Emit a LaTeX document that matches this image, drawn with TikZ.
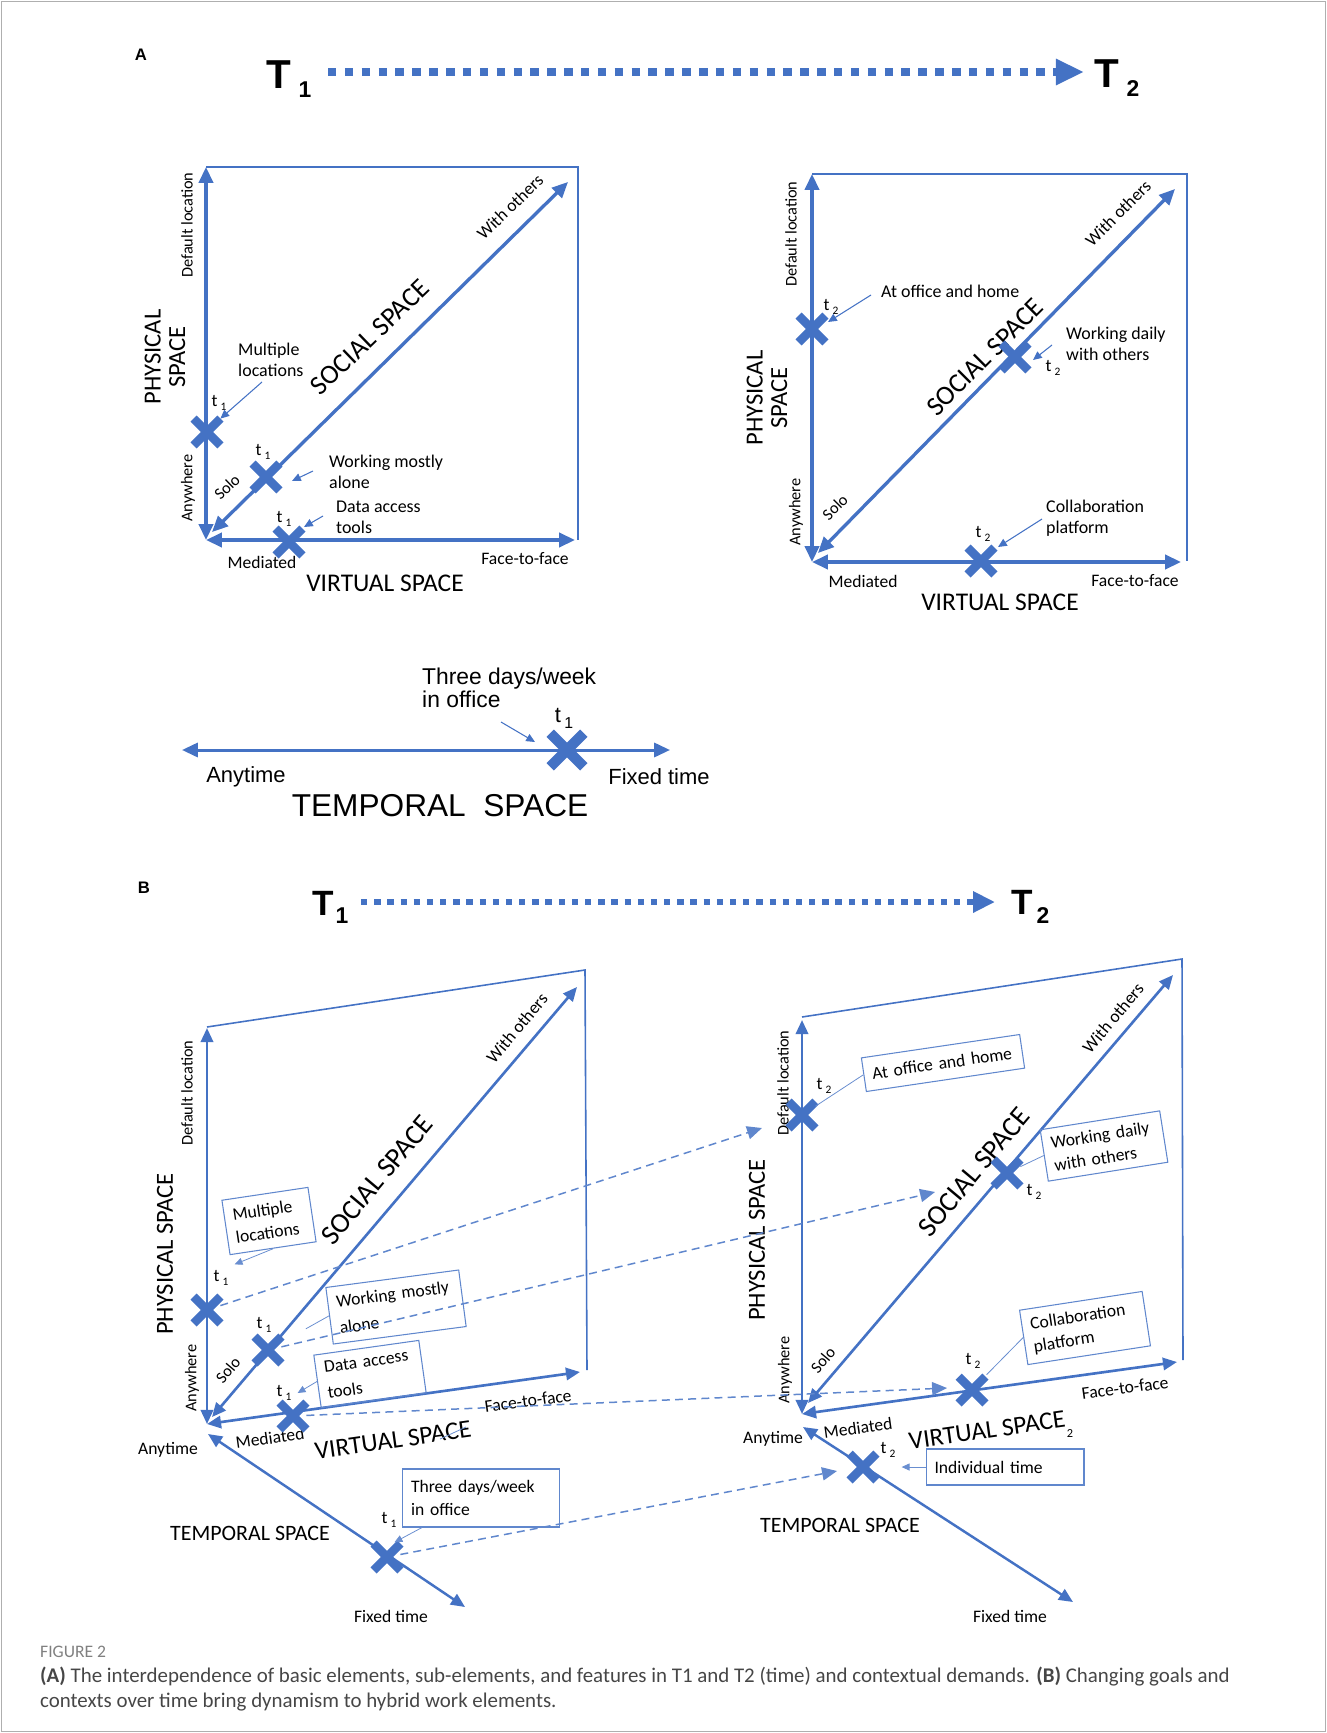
\documentclass[tikz,border=0pt]{standalone}
\usepackage{fontspec}
\setmainfont{Carlito}
\newfontfamily\arialfont{Liberation Sans}
\usetikzlibrary{arrows.meta,calc,shapes.misc}
\hyphenpenalty=10000
\exhyphenpenalty=10000

\definecolor{officeblue}{RGB}{68,114,196}
\definecolor{framegray}{RGB}{175,175,175}
\definecolor{captiongray}{RGB}{70,70,70}

\newcommand{\fsize}[1]{\fontsize{#1}{#1}\selectfont}
\newcommand{\tlab}[1]{t\kern1.8pt\raisebox{-0.45ex}{\fsize{6.5}#1}}

\tikzset{
  axisA/.style={officeblue,line width=1.9pt,
    {Triangle[length=9pt,width=8pt]}-{Triangle[length=9pt,width=8pt]}},
  axisB/.style={officeblue,line width=1.5pt,
    {Triangle[length=8pt,width=7pt]}-{Triangle[length=8pt,width=7pt]}},
  boxline/.style={draw=officeblue,line width=1pt},
  xmark/.style={cross out,draw=officeblue,line width=5pt,minimum size=0.36cm,inner sep=0pt},
  pointer/.style={officeblue,line width=0.6pt,-{Triangle[length=5pt,width=4.5pt]}},
  leader/.style={officeblue!80,line width=0.45pt},
  leadarrow/.style={leader,-{Triangle[length=4.5pt,width=4pt]}},
  movearrow/.style={officeblue!85,line width=0.85pt,dash pattern=on 4.5pt off 3pt,
    -{Triangle[length=8.5pt,width=7.5pt]}},
  timearrow/.style={officeblue,line width=4pt,dash pattern=on 4.8pt off 4.8pt,
    -{Triangle[length=16pt,width=14pt]}},
  tagbox/.style={draw=officeblue!85,line width=0.6pt,align=left,inner ysep=0pt,
    inner xsep=0.17cm,font=\fontsize{10}{13}\selectfont},
  lbl/.style={font=\fsize{10}},
  sml/.style={font=\fsize{9.3}},
  note/.style={font=\fontsize{10.2}{12}\selectfont,align=left,anchor=west},
  hdrT/.style={font=\arialfont\bfseries\fsize{23}},
  hdrsub/.style={font=\arialfont\bfseries\fsize{13}},
}

\begin{document}
\begin{tikzpicture}[x=0.02cm,y=-0.02cm]
\useasboundingbox (0,0) rectangle (1327,1733);
\draw[framegray,line width=0.7pt] (1.5,1.5) rectangle (1325.5,1731.5);

% ---------------- (A) ----------------
\node[font=\arialfont\bfseries\fsize{9.5}] at (141,55) (labA) {A};
\node[hdrT] at (279,75) (aT1) {T};
\node[hdrsub] at (305,90) (aT1s) {1};
\node[hdrT] at (1107,74) (aT2) {T};
\node[hdrsub] at (1133,89) (aT2s) {2};
\coordinate (aS) at (328,72);
\coordinate (aE) at (1084,72);
\path[timearrow] (aS) edge (aE);

% left chart
\coordinate (lO) at (206,540);
\coordinate (lUp) at (206,167);
\coordinate (lRt) at (575,540);
\coordinate (lDl) at (212,532);
\coordinate (lDh) at (568,182);
\coordinate (lC1) at (578,167);
\coordinate (lC2) at (578,540);
\draw[boxline] (lUp) -- (lC1) -- (lC2);
\path[axisA] (lO) edge (lUp);
\path[axisA] (lO) edge (lRt);
\path[axisA] (lDl) edge (lDh);

\node[sml,rotate=90] at (187,225) (dlL) {Default location};
\node[sml,rotate=90] at (188,488) (awL) {Anywhere};
\node[font=\fsize{14},rotate=90,align=center] at (165,357) (psL) {PHYSICAL\\SPACE};
\node[sml,rotate=44] at (227,487) (soL) {Solo};
\node[lbl,rotate=44] at (510,207) (woL) {With others};
\node[font=\fsize{15.5},rotate=44] at (370,337) (ssL) {SOCIAL SPACE};
\node[lbl] at (262,562) (meL) {Mediated};
\node[lbl] at (525,559) (ffL) {Face-to-face};
\node[font=\fsize{14.5}] at (385,583) (vsL) {VIRTUAL SPACE};

\node[xmark] at (207,432) (xL1) {};
\node[xmark] at (266,477) (xL2) {};
\node[xmark] at (289,542) (xL3) {};
\node[lbl] at (219,403) (tL1) {\tlab{1}};
\node[lbl] at (263,452) (tL2) {\tlab{1}};
\node[lbl] at (284,519) (tL3) {\tlab{1}};

\node[note] at (232,360) (mlL) {Multiple\\locations};
\node[note] at (323,472) (wmL) {Working mostly\\alone};
\node[note] at (330,517) (daL) {Data access\\tools};
\coordinate (mlL-a) at (262,382);
\coordinate (wmL-a) at (313,471);
\coordinate (wmL-b) at (292,481);
\coordinate (daL-a) at (323,516);
\coordinate (daL-b) at (304,527);
\path[pointer] (mlL-a) edge (xL1.north east);
\path[pointer] (wmL-a) edge (wmL-b);
\path[pointer] (daL-a) edge (daL-b);

% right chart
\coordinate (rO) at (812,562);
\coordinate (rUp) at (812,174);
\coordinate (rRt) at (1181,562);
\coordinate (rDl) at (818,553);
\coordinate (rDh) at (1175,189);
\coordinate (rC1) at (1187,174);
\coordinate (rC2) at (1187,561);
\draw[boxline] (rUp) -- (rC1) -- (rC2);
\path[axisA] (rO) edge (rUp);
\path[axisA] (rO) edge (rRt);
\path[axisA] (rDl) edge (rDh);

\node[sml,rotate=90] at (791,234) (dlR) {Default location};
\node[sml,rotate=90] at (796,512) (awR) {Anywhere};
\node[font=\fsize{14},rotate=90,align=center] at (767,398) (psR) {PHYSICAL\\SPACE};
\node[sml,rotate=45] at (835,507) (soR) {Solo};
\node[lbl,rotate=45] at (1118,213) (woR) {With others};
\node[font=\fsize{15.5},rotate=45] at (985,357) (ssR) {SOCIAL SPACE};
\node[lbl] at (863,581) (meR) {Mediated};
\node[lbl] at (1135,581) (ffR) {Face-to-face};
\node[font=\fsize{14.5}] at (1000,602) (vsR) {VIRTUAL SPACE};

\node[xmark] at (812,329) (xR1) {};
\node[xmark] at (1015,357) (xR2) {};
\node[xmark] at (981,561) (xR3) {};
\node[lbl] at (831,307) (tR1) {\tlab{2}};
\node[lbl] at (1053,368) (tR2) {\tlab{2}};
\node[lbl] at (983,534) (tR3) {\tlab{2}};

\node[note] at (875,291) (aoR) {At office and home};
\node[note] at (1060,344) (wdR) {Working daily\\with others};
\node[note] at (1040,518) (cpR) {Collaboration\\platform};
\coordinate (aoR-a) at (871,295);
\coordinate (aoR-b) at (828,322);
\coordinate (wdR-a) at (1052,345);
\coordinate (wdR-b) at (1033,360);
\coordinate (cpR-a) at (1042,519);
\coordinate (cpR-b) at (998,547);
\path[pointer] (aoR-a) edge (aoR-b);
\path[pointer] (wdR-a) edge (wdR-b);
\path[pointer] (cpR-a) edge (cpR-b);

% temporal line
\coordinate (tpL) at (182,750);
\coordinate (tpR) at (670,750);
\path[axisA,line width=1.7pt] (tpL) edge (tpR);
\node[xmark,minimum size=0.46cm,line width=6pt] at (567,750) (xT) {};
\node[font=\arialfont\fsize{12.5}] at (564,718) (tT) {t\kern2pt\raisebox{-0.5ex}{\fsize{9}1}};
\node[font=\arialfont\fontsize{13}{13}\selectfont,align=left,anchor=west] at (416,688) (tdA) {Three days/week\\in office};
\coordinate (tdA-a) at (501,722);
\coordinate (tdA-b) at (535,742);
\path[pointer] (tdA-a) edge (tdA-b);
\node[font=\arialfont\fsize{12.5}] at (246,777) (anyA) {Anytime};
\node[font=\arialfont\fsize{12.5}] at (659,777) (fixA) {Fixed time};
\node[font=\arialfont\fsize{18}] at (440,806) (tsA) {TEMPORAL\ \ SPACE};

% ---------------- (B) ----------------
\node[font=\arialfont\bfseries\fsize{9.5}] at (144,888) (labB) {B};
\node[hdrT,font=\arialfont\bfseries\fsize{20}] at (323,903) (bT1) {T};
\node[hdrsub] at (342,916) (bT1s) {1};
\node[hdrT,font=\arialfont\bfseries\fsize{20}] at (1022,902) (bT2) {T};
\node[hdrsub] at (1043,916) (bT2s) {2};
\coordinate (bS) at (361,902);
\coordinate (bE) at (995,902);
\path[timearrow,line width=3.5pt,dash pattern=on 3.6pt off 3.9pt,
  -{Triangle[length=12.5pt,width=11.5pt]}] (bS) edge (bE);

% left cube
\coordinate (pO) at (207,1424);
\coordinate (pUp) at (207,1028);
\coordinate (pRt) at (580,1372);
\coordinate (pDl) at (212,1417);
\coordinate (pDh) at (577,987);
\coordinate (pTl) at (208,1434);
\coordinate (pTr) at (465,1607);
\coordinate (pC0) at (207,1027);
\coordinate (pC1) at (585,970);
\coordinate (pC2) at (587,1370);
\draw[boxline,line width=0.9pt] (pC0) -- (pC1) -- (pC2);
\path[axisB] (pO) edge (pUp);
\path[axisB] (pO) edge (pRt);
\path[axisB] (pDl) edge (pDh);
\path[axisB,line width=1.4pt] (pTl) edge (pTr);

\node[sml,rotate=90] at (187,1093) (dlP) {Default location};
\node[font=\fsize{14},rotate=90] at (165,1254) (psP) {PHYSICAL SPACE};
\node[font=\fsize{16},rotate=50] at (377,1180) (ssP) {SOCIAL SPACE};
\node[lbl,rotate=50] at (517,1028) (woP) {With others};
\node[sml,rotate=90] at (192,1378) (awP) {Anywhere};
\node[sml,rotate=50] at (228,1370) (soP) {Solo};
\node[lbl,rotate=8] at (270,1438) (meP) {Mediated};
\node[lbl,rotate=8] at (528,1401) (ffP) {Face-to-face};
\node[font=\fsize{14.5},rotate=8] at (393,1440) (vsP) {VIRTUAL SPACE};
\node[lbl] at (168,1450) (anyP) {Anytime};
\node[font=\fsize{12.5}] at (250,1533) (tsP) {TEMPORAL SPACE};
\node[lbl] at (391,1616) (fixP) {Fixed time};
\coordinate (vsP-a) at (440,1439);
\coordinate (vsP-b) at (466,1427);
\path[leader] (vsP-a) edge (vsP-b);

\node[xmark] at (207,1310) (xP1) {};
\node[xmark] at (268,1350) (xP2) {};
\node[xmark] at (293,1416) (xP3) {};
\node[xmark] at (387,1557) (xP4) {};
\node[lbl] at (221,1278) (tP1) {\tlab{1}};
\node[lbl] at (264,1325) (tP2) {\tlab{1}};
\node[lbl] at (284,1393) (tP3) {\tlab{1}};
\node[lbl] at (389,1520) (tP4) {\tlab{1}};

\node[tagbox,rotate=8.5,text width=1.4cm,minimum height=1.1cm] at (269,1221) (mlP) {Multiple\\locations};
\node[tagbox,rotate=7.5,text width=2.34cm,minimum height=1.14cm,
  font=\fontsize{10}{15}\selectfont] at (396,1307) (wmP) {Working mostly\\alone};
\node[tagbox,rotate=8,text width=1.78cm,minimum height=1.06cm,
  font=\fontsize{10}{15}\selectfont] at (370,1374) (daP) {Data access\\tools};
\node[tagbox,text width=2.8cm,minimum height=1.16cm] at (481,1498) (tdP) {Three days/week\\in office};
\path[leadarrow] (mlP.south) edge (tP1.north east);
\path[leader] (wmP.west) edge ($(wmP.west)!0.38!(xP2)$);
\path[leadarrow] (daP.west) edge (tP3.east);
\path[leadarrow] ([xshift=0.4cm]tdP.south west) edge ($(tdP.south west)!0.5!(xP4)$);

% right cube
\coordinate (qO) at (802,1414);
\coordinate (qUp) at (802,1020);
\coordinate (qRt) at (1177,1362);
\coordinate (qDl) at (808,1403);
\coordinate (qDh) at (1173,975);
\coordinate (qTl) at (803,1427);
\coordinate (qTr) at (1073,1602);
\coordinate (qC0) at (802,1017);
\coordinate (qC1) at (1182,959);
\coordinate (qC2) at (1183,1360);
\draw[boxline,line width=0.9pt] (qC0) -- (qC1) -- (qC2);
\path[axisB] (qO) edge (qUp);
\path[axisB] (qO) edge (qRt);
\path[axisB] (qDl) edge (qDh);
\path[axisB,line width=1.4pt] (qTl) edge (qTr);

\node[sml,rotate=90] at (783,1083) (dlQ) {Default location};
\node[font=\fsize{14},rotate=90] at (757,1240) (psQ) {PHYSICAL SPACE};
\node[font=\fsize{16},rotate=50] at (974,1172) (ssQ) {SOCIAL SPACE};
\node[lbl,rotate=50] at (1113,1018) (woQ) {With others};
\node[sml,rotate=90] at (785,1370) (awQ) {Anywhere};
\node[sml,rotate=50] at (823,1360) (soQ) {Solo};
\node[lbl,rotate=8] at (858,1428) (meQ) {Mediated};
\node[lbl,rotate=8] at (1125,1388) (ffQ) {Face-to-face};
\node[font=\fsize{14.5},rotate=8] at (987,1430) (vsQ) {VIRTUAL SPACE};
\node[font=\fsize{7}] at (1070,1433) (vsQs) {2};
\node[lbl] at (773,1439) (anyQ) {Anytime};
\node[font=\fsize{12.5}] at (840,1525) (tsQ) {TEMPORAL SPACE};
\node[lbl] at (1010,1616) (fixQ) {Fixed time};

\node[xmark] at (802,1115) (xQ1) {};
\node[xmark] at (1007,1173) (xQ2) {};
\node[xmark] at (972,1390) (xQ3) {};
\node[xmark] at (863,1467) (xQ4) {};
\node[lbl] at (824,1086) (tQ1) {\tlab{2}};
\node[lbl] at (1034,1192) (tQ2) {\tlab{2}};
\node[lbl] at (973,1361) (tQ3) {\tlab{2}};
\node[lbl] at (888,1450) (tQ4) {\tlab{2}};

\node[tagbox,rotate=8.4,text width=2.86cm,minimum height=0.68cm] at (943,1063) (aoQ) {At office and home};
\node[tagbox,rotate=9,text width=2.08cm,minimum height=1.04cm] at (1104,1146) (wdQ) {Working daily\\with others};
\node[tagbox,rotate=8.7,text width=2.14cm,minimum height=1.1cm] at (1085,1328) (cpQ) {Collaboration\\platform};
\node[tagbox,text width=2.82cm,minimum height=0.72cm] at (1005,1467) (itQ) {Individual time};
\path[leader] (xQ1) edge (aoQ.west);
\path[leader] (xQ2) edge (wdQ.west);
\path[leader] (tQ3.south east) edge (cpQ.west);
\path[leadarrow] (itQ.west) edge (itQ.west -| tQ4.east);

% moves from T1 to T2
\coordinate (mv1) at (762,1128);
\coordinate (mv2) at (935,1192);
\coordinate (mv3) at (947,1388);
\coordinate (mv4) at (837,1471);
\path[movearrow] (xP1) edge (mv1);
\path[movearrow] (xP2) edge (mv2);
\path[movearrow] (xP3) edge (mv3);
\path[movearrow] (xP4) edge (mv4);

% caption
\node[anchor=west,font=\fsize{10},text=gray] at (34,1652) (figno) {FIGURE 2};
\node[anchor=west,font=\fsize{11.9},text=captiongray] at (34,1677) (cap1) {\textbf{(A)} The interdependence of basic elements, sub-elements, and features in T1 and T2 (time) and contextual demands. \textbf{(B)} Changing goals and};
\node[anchor=west,font=\fsize{11.9},text=captiongray] at (34,1702) (cap2) {contexts over time bring dynamism to hybrid work elements.};
\end{tikzpicture}
\end{document}
